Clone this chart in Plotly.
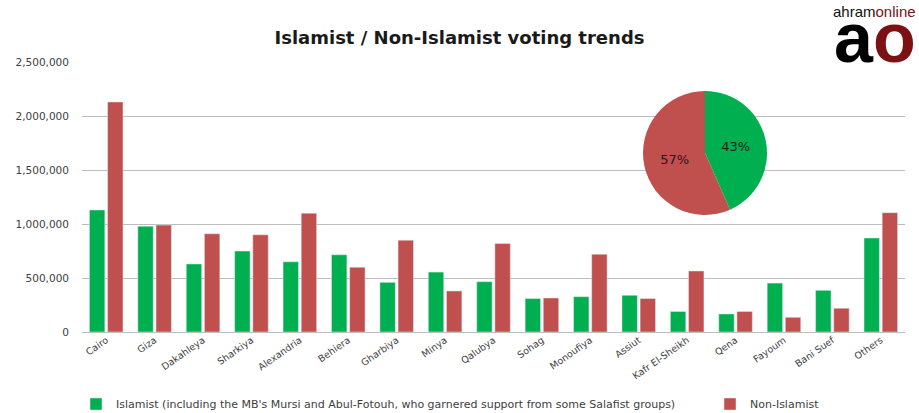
import plotly.graph_objects as go

regions = ["Cairo", "Giza", "Dakahleya", "Sharkiya", "Alexandria", "Behiera",
           "Gharbiya", "Minya", "Qalubya", "Sohag", "Monoufiya", "Assiut",
           "Kafr El-Sheikh", "Qena", "Fayoum", "Bani Suef", "Others"]
islamist = [1130000, 980000, 630000, 750000, 650000, 715000, 460000, 555000,
            466000, 310000, 327000, 340000, 190000, 167000, 453000, 386000, 870000]
non_islamist = [2130000, 990000, 910000, 900000, 1100000, 600000, 850000, 380000,
                820000, 315000, 720000, 310000, 565000, 190000, 136000, 220000, 1105000]
y_ticks = [0, 500000, 1000000, 1500000, 2000000, 2500000]
y_tick_labels = ["0", "500,000", "1,000,000", "1,500,000", "2,000,000", "2,500,000"]
pie_labels = ["Islamist", "Non-Islamist"]
pie_values = [sum(islamist), sum(non_islamist)]

GREEN = "#00B050"
RED = "#C0504D"
FONT = "DejaVu Sans"
W, H = 919, 413

# plot area in pixels: x 82..905, y 62..332
L, R, T, B = 82, 905, 62, 332
PW, PH = R - L, B - T


def px(x):
    return (x - L) / PW


def py(y):
    return (B - y) / PH


def cx(x):
    return x / W


def cy(y):
    return 1 - y / H


fig = go.Figure()
fig.add_trace(go.Bar(
    x=regions, y=islamist, marker_color=GREEN, legend="legend",
    name="Islamist (including the MB's Mursi and Abul-Fotouh, who garnered support from some Salafist groups)"))
fig.add_trace(go.Bar(x=regions, y=non_islamist, marker_color=RED,
                     name="Non-Islamist", legend="legend2"))

fig.add_trace(go.Pie(
    labels=pie_labels, values=pie_values, sort=False, direction="clockwise",
    rotation=0, marker=dict(colors=[GREEN, RED]), showlegend=False,
    texttemplate="%{percent:.0%}", textposition="inside",
    insidetextfont=dict(family=FONT, size=13, color="#1a1a1a"),
    domain=dict(x=[px(636), px(774)], y=[py(215), py(91)])))

legend_font = dict(family=FONT, size=11, color="#404040")
fig.update_layout(
    width=W, height=H,
    margin=dict(l=L, r=W - R, t=T, b=H - B, autoexpand=False),
    paper_bgcolor="white", plot_bgcolor="white",
    barmode="group", bargap=0.25, bargroupgap=0.15,
    font=dict(family=FONT, size=10, color="#404040"),
    title=dict(text="<b>Islamist / Non-Islamist voting trends</b>",
               x=0.5, xanchor="center", y=cy(38), yanchor="middle",
               font=dict(family=FONT, size=18, color="#1a1a1a")),
    legend=dict(orientation="h", xref="container", yref="container",
                x=cx(76), xanchor="left", y=cy(404), yanchor="middle",
                font=legend_font, bgcolor="rgba(0,0,0,0)"),
    legend2=dict(orientation="h", xref="container", yref="container",
                 x=cx(710), xanchor="left", y=cy(404), yanchor="middle",
                 font=legend_font, bgcolor="rgba(0,0,0,0)"),
    showlegend=True,
)
fig.update_xaxes(tickangle=-35, tickfont=dict(family=FONT, size=9.5, color="#404040"),
                 showgrid=False, showline=False, ticks="", automargin=False)
fig.update_yaxes(range=[0, 2500000], tickvals=y_ticks, ticktext=y_tick_labels,
                 showgrid=True, gridcolor="#BDBDBD", gridwidth=1,
                 zeroline=True, zerolinecolor="#BDBDBD", zerolinewidth=1,
                 ticklabelstandoff=12, automargin=False,
                 tickfont=dict(family=FONT, size=10.5, color="#404040"))

fig.add_annotation(xref="paper", yref="paper", x=px(918), y=py(11),
                   xanchor="right", yanchor="middle", showarrow=False,
                   text="<span style='color:#111'>ahram</span><span style='color:#7B1113'>online</span>",
                   font=dict(family="Liberation Sans", size=15))
fig.add_annotation(xref="paper", yref="paper", x=px(918), y=py(38),
                   xanchor="right", yanchor="middle", showarrow=False,
                   text="<b><span style='color:#000'>a</span><span style='color:#7B1113'>o</span></b>",
                   font=dict(family="Liberation Sans", size=70))

fig.write_html("out.html", config={"displayModeBar": False},
               post_script="document.body.style.margin='0';document.body.style.overflow='hidden';")
